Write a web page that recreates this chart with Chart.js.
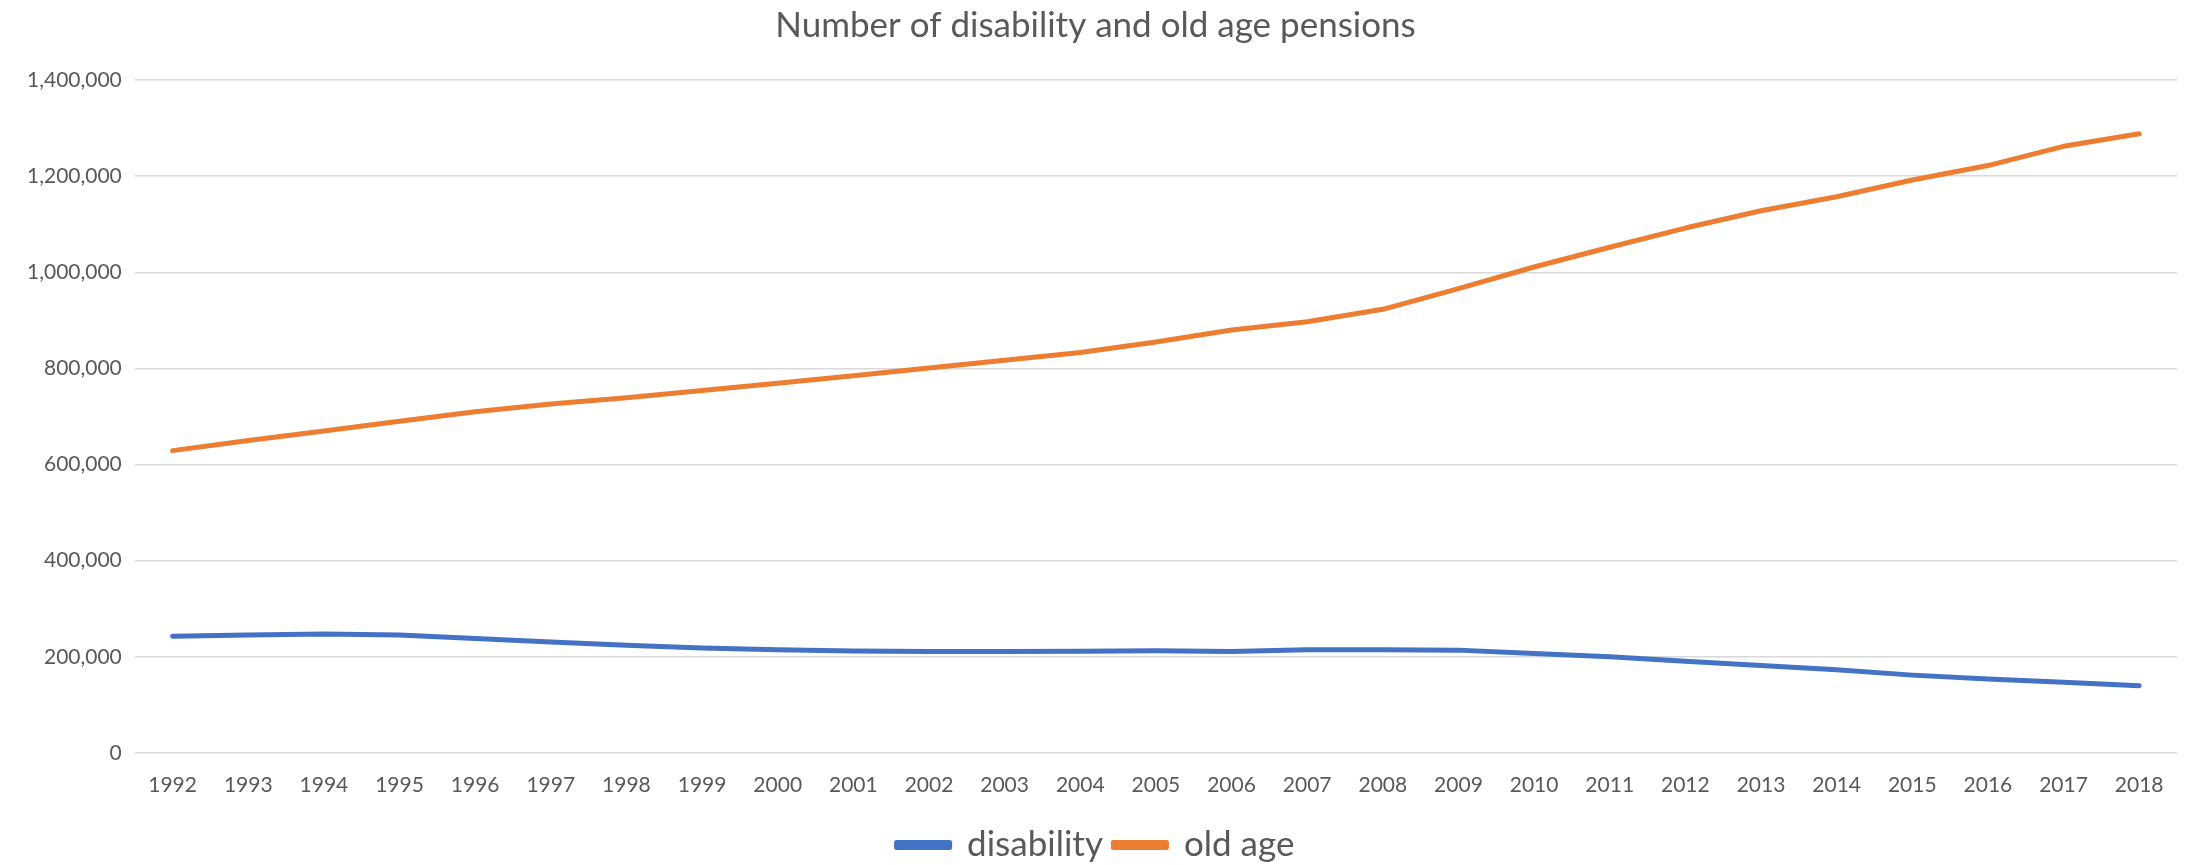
<!DOCTYPE html>
<html>
<head>
<meta charset="utf-8">
<script src="https://cdn.jsdelivr.net/npm/chart.js@4/dist/chart.umd.min.js"></script>
<style>
  html, body { margin: 0; padding: 0; background: #ffffff; }
  #wrap { width: 2186px; height: 865px; }
</style>
</head>
<body>
<div id="wrap"><canvas id="c" width="2186" height="865"></canvas></div>
<script>
const years = ['1992','1993','1994','1995','1996','1997','1998','1999','2000','2001','2002','2003','2004','2005','2006','2007','2008','2009','2010','2011','2012','2013','2014','2015','2016','2017','2018'];
const disability = [243000, 245500, 247500, 245500, 238000, 231000, 224000, 218500, 215000, 212000, 211000, 211000, 211500, 212500, 211000, 215000, 215000, 214000, 207000, 200000, 191000, 182000, 173000, 162000, 154000, 147000, 140000];
const oldAge = [629000, 650000, 670000, 690000, 710000, 726000, 739000, 754000, 769000, 785000, 801000, 817000, 833000, 855000, 880000, 897000, 923000, 966000, 1011000, 1052000, 1092000, 1128000, 1157000, 1192000, 1222000, 1262000, 1288000];
const seriesNames = ['disability', 'old age'];
const titleText = 'Number of disability and old age pensions';

const FONT = 'Lato, "Open Sans", sans-serif';
const TXT = '#595959';

new Chart(document.getElementById('c'), {
  type: 'line',
  data: {
    labels: years,
    datasets: [
      { label: seriesNames[0], data: disability, borderColor: '#4472C4', backgroundColor: '#4472C4', borderWidth: 5, pointRadius: 0, tension: 0, borderCapStyle: 'round', borderJoinStyle: 'round' },
      { label: seriesNames[1], data: oldAge, borderColor: '#ED7D31', backgroundColor: '#ED7D31', borderWidth: 5, pointRadius: 0, tension: 0, borderCapStyle: 'round', borderJoinStyle: 'round' }
    ]
  },
  options: {
    responsive: false,
    animation: false,
    devicePixelRatio: 1,
    layout: { padding: { left: 14, right: 9, top: 0, bottom: -7.5 } },
    plugins: {
      title: {
        display: true,
        text: titleText,
        color: TXT,
        font: { family: FONT, size: 35, weight: 'normal' },
        padding: { top: 5, bottom: 33 }
      },
      legend: {
        position: 'bottom',
        labels: {
          color: TXT,
          font: { family: FONT, size: 35 },
          boxWidth: 53,
          boxHeight: 5,
          padding: 10.5
        }
      },
      tooltip: { enabled: false }
    },
    scales: {
      x: {
        offset: true,
        grid: { display: false, drawTicks: false },
        border: { display: false },
        ticks: { color: TXT, font: { family: FONT, size: 21, lineHeight: 2.0 }, padding: 11, maxRotation: 0, autoSkip: false }
      },
      y: {
        min: 0,
        max: 1400000,
        grid: { color: '#d9d9d9', lineWidth: 1.5, drawTicks: false },
        border: { display: false },
        ticks: {
          stepSize: 200000,
          color: TXT,
          font: { family: FONT, size: 21 },
          padding: 13,
          callback: v => v.toLocaleString('en-US')
        }
      }
    }
  }
});
</script>
</body>
</html>
